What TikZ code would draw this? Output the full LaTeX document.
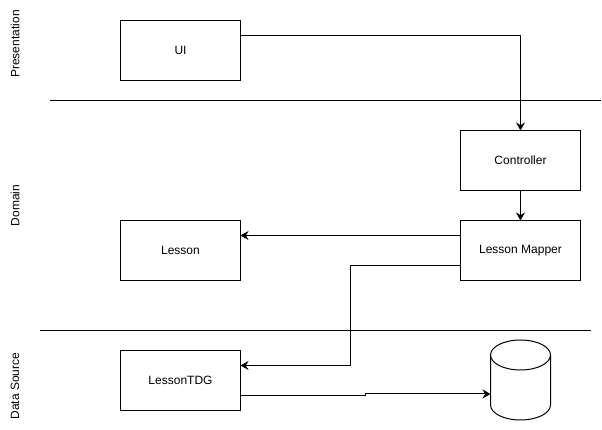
\documentclass[tikz,border=0pt]{standalone}
\usepackage{fontspec}
\setmainfont{Liberation Sans}
\usetikzlibrary{arrows.meta}
\tikzset{
  classbox/.style={draw=black,line width=1pt,minimum width=120pt,minimum height=60pt,outer sep=0pt,inner sep=0pt,font=\fontsize{12}{14}\selectfont},
  layerlabel/.style={rotate=90,inner sep=0pt,font=\fontsize{12}{14}\selectfont},
  layerline/.style={draw=black,line width=1pt},
  link/.style={draw=black,line width=1pt,-{Stealth[length=8pt,width=9pt]}}
}
\begin{document}
\begin{tikzpicture}[x=1pt,y=1pt]
\useasboundingbox (0,0) rectangle (602,430);
% objects in the presentation layer:
\node[layerlabel] (presentation) at (15,386) {Presentation};
\node[classbox] (ui) at (180.5,379.5) {UI};
% objects in the domain layer:
\node[layerlabel] (domain) at (15,224.5) {Domain};
\node[classbox] (controller) at (520.5,269.5) {Controller};
\node[classbox] (mapper) at (520.5,179.5) {Lesson Mapper};
\node[classbox] (lesson) at (180.5,179.5) {Lesson};
% objects in the data source layer:
\node[layerlabel] (datasource) at (15,44) {Data Source};
\node[classbox] (tdg) at (180.5,49.5) {LessonTDG};
\node[minimum width=60pt,minimum height=80pt,outer sep=0pt,inner sep=0pt] (db) at (520.5,50) {};
\path[draw=black,line width=1pt] ([yshift=-15pt]db.north west) arc (180:0:30 and 15) -- ([yshift=15pt]db.south east) arc (0:-180:30 and 15) -- cycle;
\path[draw=black,line width=1pt] ([yshift=-15pt]db.north west) arc (180:360:30 and 15);
% layer separators:
\coordinate (topleft) at (50,329.5);
\coordinate (topright) at (601,329.5);
\coordinate (lowleft) at (40,99.5);
\coordinate (lowright) at (591,99.5);
\path[layerline] (topleft) -- (topright);
\path[layerline] (lowleft) -- (lowright);
% connectors:
\path[link] ([yshift=15pt]ui.east) -| (controller.north);
\path[link] (controller.south) -- (mapper.north);
\path[link] ([yshift=15pt]mapper.west) -- ([yshift=15pt]lesson.east);
\path[link] ([yshift=-15pt]mapper.west) -| (350.5,64.5) -- ([yshift=15pt]tdg.east);
\path[link] ([yshift=-15pt]tdg.east) -- (365.5,34.5) -- (365.5,36) -- ([yshift=-14pt]db.west);
\end{tikzpicture}
\end{document}
